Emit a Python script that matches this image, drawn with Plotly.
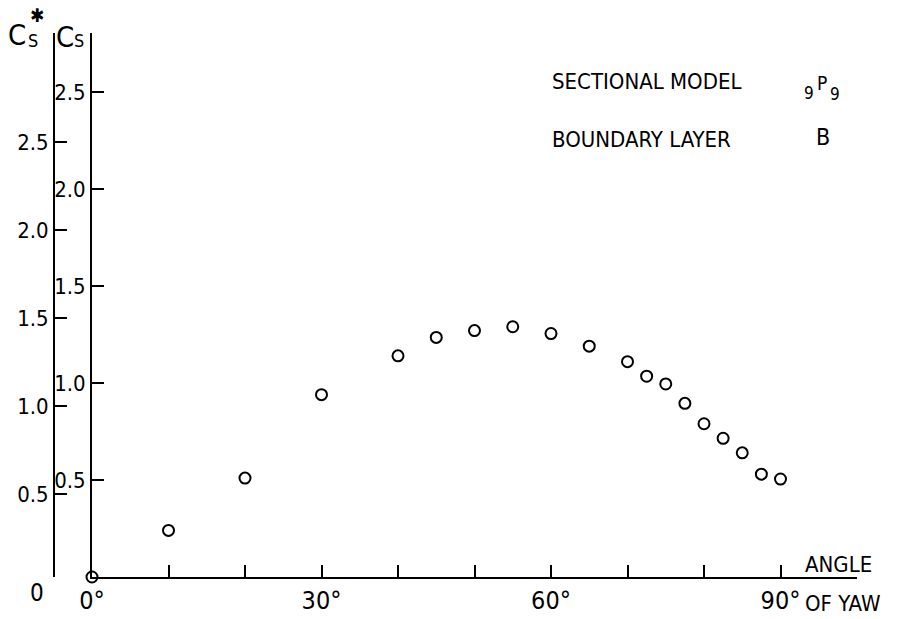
import plotly.graph_objects as go

# ---- data ----
yaw_angle = [0, 10, 20, 30, 40, 45, 50, 55, 60, 65, 70, 72.5, 75, 77.5, 80, 82.5, 85, 87.5, 90]
cs_values = [0, 0.24, 0.51, 0.94, 1.14, 1.235, 1.27, 1.29, 1.255, 1.19, 1.11, 1.035, 0.995,
             0.895, 0.79, 0.715, 0.64, 0.53, 0.505]
x_tickvals = [0, 30, 60, 90]
x_ticktext = ["0°", "30°", "60°", "90°"]
x_minor_step = 10
cs_ticks = [0.5, 1.0, 1.5, 2.0, 2.5]
cs_star_ticks = [0.5, 1.0, 1.5, 2.0, 2.5]

FONT = "Liberation Sans Narrow, DejaVu Sans Condensed, Roboto Condensed, Liberation Sans, sans-serif"
W, H = 898, 619
L, R, T, B = 54, 857, 33, 577


def px(x):
    return (x - L) / (R - L)


def py(y):
    return (B - y) / (B - T)


fig = go.Figure()
fig.add_trace(go.Scatter(
    x=yaw_angle, y=cs_values, mode="markers",
    marker=dict(symbol="circle-open", size=11, color="black", line=dict(width=2, color="black")),
    cliponaxis=False, showlegend=False, xaxis="x", yaxis="y"))
fig.add_trace(go.Scatter(x=[None], y=[None], mode="markers", showlegend=False, xaxis="x", yaxis="y2",
                         hoverinfo="skip"))

axis_common = dict(showgrid=False, zeroline=False, showline=True, linecolor="black", linewidth=2,
                   ticks="inside", ticklen=12, tickwidth=2, tickcolor="black", automargin=False)

fig.update_layout(
    width=W, height=H,
    margin=dict(l=L, r=W - R, t=T, b=H - B, pad=0, autoexpand=False),
    paper_bgcolor="white", plot_bgcolor="white",
    xaxis=dict(domain=[(92 - L) / (R - L), 1], range=[0, 100], tickmode="array",
               tickvals=x_tickvals, ticktext=x_ticktext, anchor="y",
               tickfont=dict(family=FONT, size=25, color="black"),
               minor=dict(tick0=0, dtick=x_minor_step, ticks="inside", ticklen=12, tickwidth=2,
                          tickcolor="black", showgrid=False),
               **axis_common),
    yaxis=dict(range=[0, (B - T) / 194.0], tickmode="array", tickvals=cs_ticks,
               ticktext=[f"{v:.1f}" for v in cs_ticks], anchor="x",
               tickfont=dict(family=FONT, size=22, color="black"), **axis_common),
    yaxis2=dict(range=[(582 - B) / 176.0, (582 - T) / 176.0], tickmode="array",
                tickvals=cs_star_ticks, ticktext=[f"{v:.1f}" for v in cs_star_ticks],
                overlaying="y", anchor="free", position=0, side="left",
                tickfont=dict(family=FONT, size=22, color="black"), **axis_common),
    showlegend=False,
)


def txt(text, x, y, size, xanchor="center", yanchor="middle"):
    return dict(text=text, x=px(x), y=py(y), xanchor=xanchor, yanchor=yanchor,
                xref="paper", yref="paper", showarrow=False,
                font=dict(family=FONT, size=size, color="black"))


annots = [
    # C_S* title (outer axis)
    txt("C", 17, 35, 29),
    txt("S", 32.5, 41, 18),
    txt("✱", 37, 15, 19),
    # C_S title (inner axis)
    txt("C", 64.5, 36.5, 29),
    txt("S", 79, 41, 18),
    # zero label of C_S* axis
    txt("0", 37, 593, 24),
    # legend text
    txt("SECTIONAL MODEL", 550, 81.5, 22, xanchor="left"),
    txt("9", 809, 93, 17),
    txt("P", 822, 83.5, 19),
    txt("9", 835, 94, 17),
    txt("BOUNDARY LAYER", 550, 139, 22, xanchor="left"),
    txt("B", 822.5, 137, 23),
    # x axis title
    txt("ANGLE", 803, 564, 22, xanchor="left"),
    txt("OF YAW", 803, 603, 22, xanchor="left"),
]
fig.update_layout(annotations=annots)

fig.write_html("out.html")
